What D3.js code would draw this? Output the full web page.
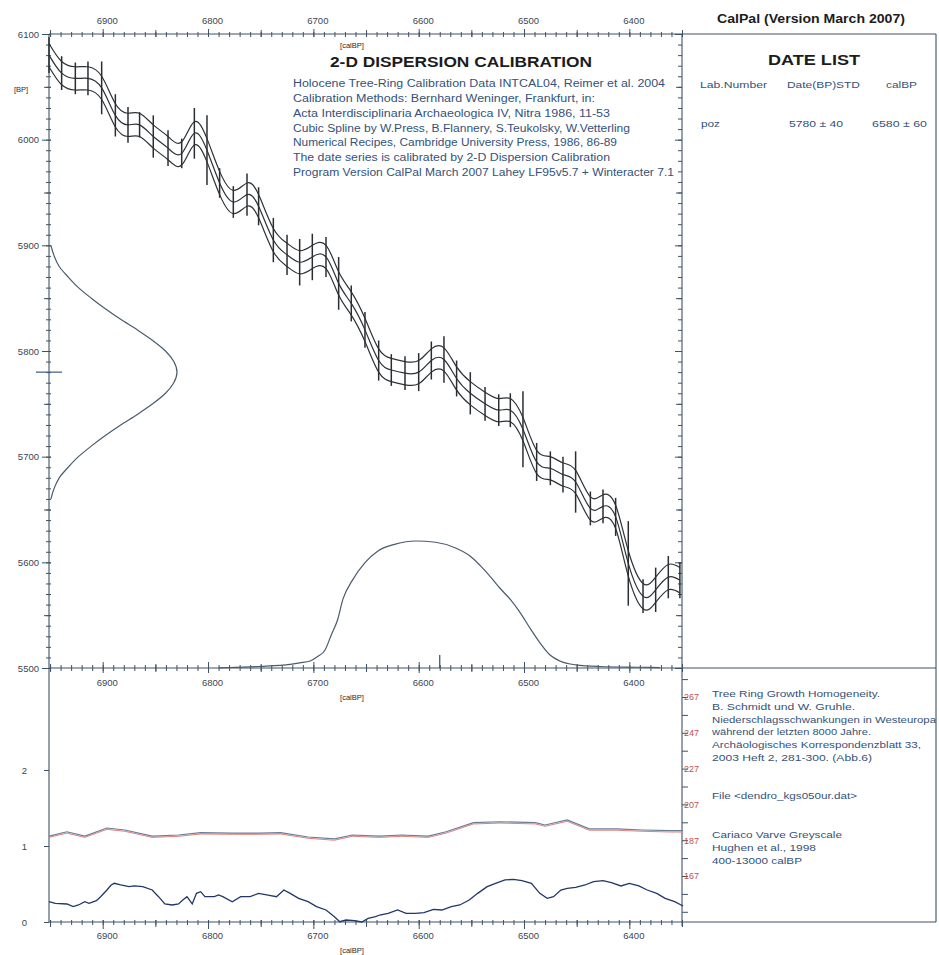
<!DOCTYPE html>
<html><head><meta charset="utf-8">
<script src="https://cdn.jsdelivr.net/npm/d3@7"></script>
<style>body{margin:0;background:#fff} svg{display:block}</style>
</head><body><svg id="c" width="939" height="955"></svg>
<script>
// ---------------- DATA ----------------
// calibration curve (INTCAL04)
const calYears = [6951,6939,6926,6914,6901,6888,6876,6865,6852,6838,6825,6813,6801,6789,6776,6763,6752,6738,6725,6713,6701,6688,6676,6664,6651,6638,6626,6613,6600,6588,6576,6564,6551,6537,6524,6513,6501,6488,6475,6463,6451,6437,6425,6413,6401,6387,6375,6363,6352];
const c14BP    = [6080,6063,6058,6058,6049,6023,6014,6014,6003,5992,5987,6006,5990,5959,5941,5948,5937,5905,5891,5884,5889,5889,5864,5845,5820,5791,5782,5779,5780,5791,5792,5774,5760,5750,5744,5744,5726,5695,5689,5683,5676,5651,5653,5643,5599,5568,5574,5586,5583];
const calSigma = [11,11,11,11,11,11,11,11,11,11,11,11,11,11,11,11,11,11,11,11,11,11,11,11,11,11,11,11,11,11,11,11,11,11,11,11,11,11,11,11,11,11,11,11,12,12,12,12,12];
const barErr   = [17,16,15,16,25,20,17,12,20,17,14,24,33,14,15,20,18,21,19,22,22,19,25,17,17,19,15,16,18,18,22,17,20,16,15,16,36,18,16,17,29,16,16,18,40,16,21,20,17];

// 14C date probability (5780 ± 40) along BP axis
const c14ProbBP = [5900,5890,5880,5870,5860,5850,5840,5830,5820,5810,5800,5790,5780,5770,5760,5750,5740,5730,5720,5710,5700,5690,5680,5670,5660];
const c14Prob   = [0.015,0.04,0.08,0.15,0.23,0.33,0.44,0.56,0.69,0.81,0.91,0.975,1.0,0.975,0.91,0.81,0.69,0.56,0.44,0.33,0.23,0.15,0.08,0.04,0.015];
const c14Marker = 5780;

// calibrated probability along calBP axis
const calProbYears = [6790,6779,6751,6722,6713,6703,6696,6689,6683,6677,6672,6663,6651,6639,6622,6603,6584,6565,6551,6542,6532,6523,6513,6504,6494,6485,6475,6466,6451,6428,6390,6371];
const calProb      = [0.0,0.004,0.012,0.028,0.04,0.055,0.09,0.14,0.26,0.38,0.54,0.69,0.83,0.92,0.976,1.0,0.99,0.945,0.88,0.81,0.72,0.63,0.54,0.44,0.31,0.2,0.1,0.055,0.025,0.012,0.006,0.003];
const calMarker = 6580;

// lower panel: Cariaco greyscale (red axis units)
const greyYears = [6951,6934,6917,6896,6879,6853,6828,6807,6777,6752,6731,6705,6680,6663,6637,6616,6591,6574,6548,6523,6489,6480,6459,6438,6412,6387,6361,6349];
const greyVals  = [189.3,191.7,189.3,193.8,192.7,189.3,189.9,191.2,191.0,191.0,191.2,188.8,187.7,189.9,189.3,189.9,189.3,191.7,196.8,197.3,196.8,195.5,198.3,193.3,193.3,192.7,192.3,192.3];

// lower panel: tree ring growth homogeneity (left axis units)
const treeYears = [6951,6945,6934,6928,6923,6917,6913,6906,6902,6896,6892,6889,6883,6875,6870,6862,6853,6847,6841,6834,6828,6824,6820,6815,6811,6807,6803,6798,6794,6790,6786,6777,6769,6760,6752,6743,6735,6728,6722,6714,6705,6697,6688,6680,6675,6669,6661,6654,6648,6641,6637,6629,6620,6612,6603,6595,6586,6578,6569,6561,6552,6544,6535,6527,6518,6510,6502,6493,6485,6478,6472,6465,6459,6451,6442,6434,6425,6417,6408,6400,6391,6383,6374,6366,6357,6349];
const treeVals  = [0.267,0.246,0.237,0.202,0.224,0.267,0.246,0.281,0.333,0.421,0.487,0.509,0.487,0.465,0.474,0.465,0.421,0.333,0.237,0.224,0.237,0.289,0.333,0.237,0.377,0.399,0.333,0.333,0.333,0.355,0.333,0.267,0.333,0.333,0.377,0.355,0.333,0.421,0.377,0.311,0.267,0.202,0.158,0.070,0.004,0.026,0.018,0.0,0.048,0.070,0.092,0.114,0.158,0.114,0.114,0.123,0.167,0.158,0.202,0.224,0.289,0.377,0.465,0.509,0.553,0.561,0.544,0.509,0.377,0.311,0.333,0.421,0.443,0.456,0.487,0.531,0.544,0.518,0.474,0.509,0.474,0.421,0.377,0.311,0.267,0.211];

// tick labels
const xTickLabels   = [6900,6800,6700,6600,6500,6400];
const yTickLabels   = [5500,5600,5700,5800,5900,6000,6100];
const lowTickLabels = [0,1,2];
const redTickLabels = [267,247,227,207,187,167];

// texts
const infoLines = [
  "Holocene Tree-Ring Calibration Data INTCAL04, Reimer et al. 2004",
  "Calibration Methods:  Bernhard Weninger, Frankfurt, in:",
  "Acta Interdisciplinaria Archaeologica IV, Nitra 1986, 11-53",
  "Cubic Spline by W.Press, B.Flannery, S.Teukolsky, W.Vetterling",
  "Numerical Recipes, Cambridge University Press, 1986, 86-89",
  "The date series is calibrated by 2-D Dispersion Calibration",
  "Program Version CalPal March 2007 Lahey LF95v5.7 + Winteracter 7.1"
];
const infoWidths = [372,302,317,337,324,317,381];
const refLines = [
  ["Tree Ring Growth Homogeneity.",693,168],
  ["B. Schmidt und W. Gruhle.",706,143],
  ["Niederschlagsschwankungen in Westeuropa",719,224],
  ["während der letzten 8000 Jahre.",731,159],
  ["Archäologisches Korrespondenzblatt 33,",744,209],
  ["2003 Heft 2, 281-300. (Abb.6)",757,160],
  ["File <dendro_kgs050ur.dat>",795,145],
  ["Cariaco Varve Greyscale",834,130],
  ["Hughen et al., 1998",847,104],
  ["400-13000 calBP",860,90]
];

// ---------------- LAYOUT ----------------
const FONT = '"Liberation Sans", Arial, sans-serif';
const AX = '#3f5266', TXT = '#3a4654', BLUE = '#34527a', RED = '#c0504d';
const L=49, R=682, T=34, B=668, B2=922, RE=936;
const svg = d3.select('#c');
svg.append('rect').attr('width',939).attr('height',955).attr('fill','#fff');

const x = d3.scaleLinear().domain([6951,6350]).range([L,R]);
const y = d3.scaleLinear().domain([5500,6100]).range([B,T]);
const yLow = d3.scaleLinear().domain([0,1]).range([B2,846]);
const yRed = d3.scaleLinear().domain([167,267]).range([876,697]);
const pLeft = d3.scaleLinear().domain([0,1]).range([L,L+128]);
const pBottom = d3.scaleLinear().domain([0,1]).range([B,B-127]);

const xMinor = d3.range(6950,6349,-10);
const xMid = d3.range(6950,6349,-100);
const yMinor = d3.range(5500,6101,10);
const yMid = d3.range(5550,6100,100);
const redMinor = d3.range(147,288,10);

function clean(g){
  g.select('.domain').remove();
  g.selectAll('line').attr('stroke',AX).attr('stroke-width',1);
  g.selectAll('text').attr('fill',TXT).attr('font-size',9.5).attr('font-family',FONT);
}
function hAxis(yPos, orient, vals, size, y1, fmt, pad){
  const ax = (orient==='top'?d3.axisTop(x):d3.axisBottom(x)).tickValues(vals).tickSize(size).tickPadding(pad||4).tickFormat(fmt||'');
  const g = svg.append('g').attr('transform',`translate(0,${yPos})`).call(ax);
  clean(g); g.selectAll('line').attr('y1',y1);
  g.selectAll('text').attr('dx',4);
  return g;
}
hAxis(T,'top',xMinor,2,3);
hAxis(T,'top',xMid,4,3);
hAxis(T,'top',xTickLabels,5,3,d3.format('d'),5);
hAxis(B,'bottom',xMinor,3,-3);
hAxis(B,'bottom',xMid,4,-4);
hAxis(B,'bottom',xTickLabels,5,-6,d3.format('d'),6);
hAxis(B2,'bottom',xMinor,3,-2);
hAxis(B2,'bottom',xMid,5,-2);
hAxis(B2,'bottom',xTickLabels,7,-2,d3.format('d'),3);

function vAxis(xPos, orient, scale, vals, size, x1, fmt, pad){
  const ax = (orient==='left'?d3.axisLeft(scale):d3.axisRight(scale)).tickValues(vals).tickSize(size).tickPadding(pad||3).tickFormat(fmt||'');
  const g = svg.append('g').attr('transform',`translate(${xPos},0)`).call(ax);
  clean(g); g.selectAll('line').attr('x1',x1);
  return g;
}
vAxis(L,'left',y,yMinor,3,2);
vAxis(L,'left',y,yMid,5,2);
vAxis(L,'left',y,yTickLabels,7,2,d3.format('d'),3);
vAxis(R,'left',y,yMinor,4,0);
vAxis(R,'left',y,yMid,6,0);
vAxis(R,'left',y,yTickLabels,7,0);
vAxis(L,'left',yLow,lowTickLabels,5,0,d3.format('d'),17);
vAxis(R,'right',yRed,redMinor.filter(v=>yRed(v)>670&&yRed(v)<920),6,0);
const gr = vAxis(R,'right',yRed,redTickLabels,0,0,d3.format('d'),2);
gr.selectAll('text').attr('fill',RED).attr('font-size',9);

// frame lines
const frame = [[L,T,RE,T],[RE,T,RE,B2],[L,B,RE,B],[L,B2,RE,B2],[L,T,L,B2],[R,T,R,B2+4]];
svg.append('g').selectAll('line').data(frame).join('line')
  .attr('x1',d=>d[0]).attr('y1',d=>d[1]).attr('x2',d=>d[2]).attr('y2',d=>d[3])
  .attr('stroke',AX).attr('stroke-width',1.1);

// ---------------- MARKS ----------------
const idx = d3.range(calYears.length);
const gCurve = svg.append('g').attr('fill','none').attr('stroke','#2e3236').attr('stroke-width',1.2);
[-1,0,1].forEach(k=>{
  gCurve.append('path').attr('d', d3.line().curve(d3.curveNatural)
    .x(i=>x(calYears[i])).y(i=>y(c14BP[i]+k*calSigma[i]))(idx));
});
svg.append('g').selectAll('line').data(idx).join('line')
  .attr('x1',i=>x(calYears[i])).attr('x2',i=>x(calYears[i]))
  .attr('y1',i=>y(c14BP[i]+barErr[i])).attr('y2',i=>y(c14BP[i]-barErr[i]))
  .attr('stroke','#2a2e33').attr('stroke-width',1.5);

svg.append('path').attr('fill','none').attr('stroke','#4b5b6b').attr('stroke-width',1.2)
  .attr('d', d3.line().curve(d3.curveMonotoneY).x((d,i)=>pLeft(c14Prob[i])).y((d,i)=>y(c14ProbBP[i]))(c14ProbBP));
svg.append('line').attr('x1',36).attr('x2',62).attr('y1',y(c14Marker)).attr('y2',y(c14Marker))
  .attr('stroke','#3a5a8a').attr('stroke-width',1.2);

svg.append('path').attr('fill','none').attr('stroke','#4b5b6b').attr('stroke-width',1.2)
  .attr('d', d3.line().curve(d3.curveMonotoneX).x((d,i)=>x(calProbYears[i])).y((d,i)=>pBottom(calProb[i]))(calProbYears));
svg.append('line').attr('x1',x(calMarker)).attr('x2',x(calMarker)).attr('y1',B-13).attr('y2',B)
  .attr('stroke','#3a4a5a').attr('stroke-width',1.2);

const greyLine = d3.line().x((d,i)=>x(greyYears[i])).y((d,i)=>yRed(greyVals[i]));
svg.append('path').attr('fill','none').attr('stroke','#e08080').attr('stroke-width',1)
  .attr('transform','translate(0,1.3)').attr('d', greyLine(greyYears));
svg.append('path').attr('fill','none').attr('stroke','#6d7d96').attr('stroke-width',1.2)
  .attr('d', greyLine(greyYears));
svg.append('path').attr('fill','none').attr('stroke','#22366a').attr('stroke-width',1.3)
  .attr('d', d3.line().x((d,i)=>x(treeYears[i])).y((d,i)=>yLow(treeVals[i]))(treeYears));

// ---------------- TEXT ----------------
function txt(s, xx, yy, opt){
  opt = opt||{};
  const t = svg.append('text').text(s).attr('x',xx).attr('y',yy)
    .attr('font-family',FONT).attr('font-size',opt.size||9.5)
    .attr('fill',opt.fill||TXT).attr('dominant-baseline','central')
    .attr('text-anchor',opt.anchor||'start');
  if(opt.bold) t.attr('font-weight','bold');
  if(opt.len) t.attr('textLength',opt.len).attr('lengthAdjust','spacingAndGlyphs');
  return t;
}
txt('CalPal (Version March 2007)', 717, 18, {size:13, bold:true, fill:'#1c1c1c', len:188});
txt('[calBP]', 352, 45, {size:7.5, anchor:'middle', fill:'#2a2a2a'});
txt('[calBP]', 352, 697, {size:7.5, anchor:'middle', fill:'#2a2a2a'});
txt('[calBP]', 352, 950, {size:7.5, anchor:'middle', fill:'#2a2a2a'});
txt('[BP]', 14, 89, {size:7.5, fill:'#2a2a2a'});
txt('2-D DISPERSION CALIBRATION', 330, 62, {size:14, bold:true, fill:'#1c1c1c', len:262});
infoLines.forEach((s,i)=> txt(s, 293, 83.3 + i*14.9, {size:10, fill:BLUE, len:infoWidths[i]}));
txt('DATE LIST', 768, 60, {size:14, bold:true, fill:'#1c1c1c', len:92});
txt('Lab.Number', 700, 84.5, {size:9.5, fill:BLUE, len:67});
txt('Date(BP)STD', 787, 84.5, {size:9.5, fill:BLUE, len:73});
txt('calBP', 886, 84.5, {size:9.5, fill:BLUE, len:31});
txt('poz', 701, 123, {size:9.5, fill:BLUE, len:19});
txt('5780 ± 40', 789, 123, {size:9.5, fill:BLUE, len:54});
txt('6580 ± 60', 872, 123, {size:9.5, fill:BLUE, len:55});
refLines.forEach(r=> txt(r[0], 712, r[1], {size:9.5, fill:BLUE, len:r[2]}));
</script></body></html>
